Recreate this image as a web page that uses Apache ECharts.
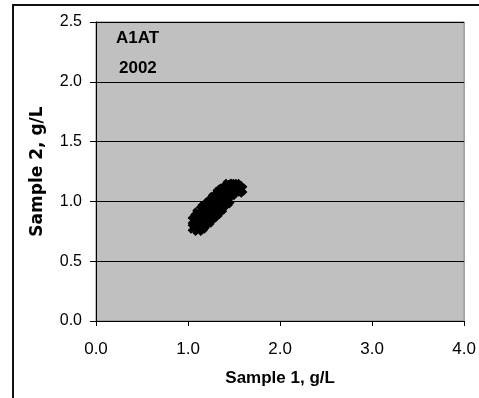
<!DOCTYPE html>
<html>
<head>
<meta charset="utf-8">
<script src="https://cdn.jsdelivr.net/npm/echarts@6/dist/echarts.min.js"></script>
<style>
  html, body { margin: 0; padding: 0; background: #fff; }
  #chart { width: 479px; height: 398px; }
</style>
</head>
<body>
<div id="chart"></div>
<script>
// tick labels
const xTicks = [0, 1, 2, 3, 4];
const yTicks = [0, 0.5, 1, 1.5, 2, 2.5];

// sample 1 vs sample 2 (g/L)
const sample1 = [1.06, 1.06, 1.11, 1.11, 1.11, 1.17, 1.17, 1.17, 1.22, 1.22, 1.22, 1.28, 1.28, 1.28,
  1.33, 1.33, 1.33, 1.38, 1.38, 1.38, 1.44, 1.44, 1.44, 1.49, 1.49, 1.55, 1.55,
  1.09, 1.09, 1.15, 1.15, 1.15, 1.20, 1.20, 1.20, 1.25, 1.25, 1.25, 1.31, 1.31, 1.31,
  1.36, 1.36, 1.36, 1.42, 1.42, 1.42, 1.47, 1.47, 1.52, 1.52, 1.58];
const sample2 = [0.84, 0.78, 0.90, 0.83, 0.76, 0.95, 0.88, 0.80, 0.98, 0.92, 0.83, 1.03, 0.95, 0.88,
  1.07, 0.99, 0.92, 1.10, 1.04, 0.97, 1.14, 1.08, 1.01, 1.14, 1.09, 1.12, 1.08,
  0.87, 0.80, 0.93, 0.85, 0.78, 0.96, 0.89, 0.83, 1.00, 0.93, 0.86, 1.04, 0.98, 0.90,
  1.09, 1.02, 0.94, 1.12, 1.05, 0.99, 1.13, 1.06, 1.14, 1.09, 1.10];

const labelLines = ['A1AT', '2002'];

const points = sample1.map((x, i) => [x, sample2[i]]);

const chart = echarts.init(document.getElementById('chart'));

const xMark = 'path://M0,4 L4,0 L7,3 L10,0 L14,4 L11,7 L14,10 L10,14 L7,11 L4,14 L0,10 L3,7 Z';

const option = {
  animation: false,
  grid: {
    left: 96,
    right: 13,
    top: 22,
    bottom: 77,
    show: true,
    backgroundColor: '#c0c0c0',
    borderColor: '#808080',
    borderWidth: 1
  },
  xAxis: {
    type: 'value',
    min: xTicks[0],
    max: xTicks[xTicks.length - 1],
    interval: 1,
    name: 'Sample 1, g/L',
    nameLocation: 'middle',
    nameGap: 49,
    nameTextStyle: { fontFamily: 'Liberation Sans', fontWeight: 'bold', fontSize: 17, color: '#000' },
    axisLine: { show: true, lineStyle: { color: '#000', width: 1 } },
    axisTick: { show: true, length: 5, lineStyle: { color: '#000' } },
    axisLabel: {
      margin: 20,
      fontFamily: 'Liberation Sans',
      fontSize: 17,
      color: '#000',
      formatter: v => v.toFixed(1)
    },
    splitLine: { show: false }
  },
  yAxis: {
    type: 'value',
    min: yTicks[0],
    max: yTicks[yTicks.length - 1],
    interval: 0.5,
    name: 'Sample 2, g/L',
    nameLocation: 'middle',
    nameGap: 50,
    nameTextStyle: { fontFamily: 'DejaVu Sans', fontWeight: 'bold', fontSize: 17, color: '#000' },
    axisLine: { show: true, lineStyle: { color: '#000', width: 1 } },
    axisTick: { show: true, length: 6, lineStyle: { color: '#000' } },
    axisLabel: {
      margin: 14,
      fontFamily: 'Liberation Sans',
      fontSize: 16,
      color: '#000',
      formatter: v => v.toFixed(1)
    },
    splitLine: { show: true, lineStyle: { color: '#000', width: 1 } }
  },
  graphic: [
    {
      type: 'rect',
      shape: { x: 13, y: 5, width: 500, height: 420 },
      style: { fill: 'none', stroke: '#111', lineWidth: 2 },
      silent: true
    },
    {
      type: 'text',
      left: 116,
      top: 30,
      style: { text: labelLines[0], font: 'bold 17px "Liberation Sans"', fill: '#000' }
    },
    {
      type: 'text',
      left: 119,
      top: 60,
      style: { text: labelLines[1], font: 'bold 17px "Liberation Sans"', fill: '#000' }
    }
  ],
  series: [
    {
      type: 'scatter',
      data: points,
      symbol: xMark,
      symbolSize: 12,
      itemStyle: { color: '#000', opacity: 1 }
    }
  ]
};

chart.setOption(option);
</script>
</body>
</html>
